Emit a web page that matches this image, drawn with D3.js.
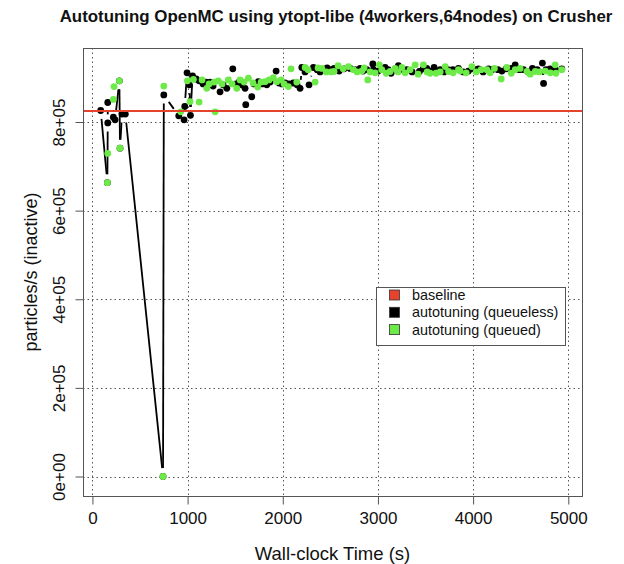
<!DOCTYPE html>
<html>
<head>
<meta charset="utf-8">
<script src="https://cdn.jsdelivr.net/npm/d3@7"></script>
<style>
  html, body { margin: 0; padding: 0; background: #fff; }
  svg { display: block; font-family: "Liberation Sans", Arial, Helvetica, sans-serif; }
</style>
</head>
<body>
<svg id="chart" width="624" height="564"></svg>
<script>
// ---- data ----
const titleText = "Autotuning OpenMC using ytopt-libe (4workers,64nodes) on Crusher";
const xLabel = "Wall-clock Time (s)";
const yLabel = "particles/s (inactive)";
const xTicks = [0, 1000, 2000, 3000, 4000, 5000];
const yTicks = [0, 200000, 400000, 600000, 800000];
const yTickLabels = ["0e+00", "2e+05", "4e+05", "6e+05", "8e+05"];
const baselineValue = 825000;
const legendLabels = ["baseline", "autotuning (queueless)", "autotuning (queued)"];

// queueless (black) : time (s), particles/s
const queuelessTime = [87,157,161,161,220,238,283,290,311,346,742,750,907,963,970,994,1019,1030,1052,1089,1121,1163,1194,1236,1268,1341,1373,1412,1475,1510,1544,1572,1604,1611,1674,1698,1744,1783,1832,1867,1930,1961,1993,2024,2066,2111,2150,2182,2200,2234,2276,2322,2361,2392,2427,2466,2497,2539,2592,2644,2708,2760,2813,2844,2883,2946,2952,3002,3075,3107,3138,3215,3264,3303,3359,3436,3475,3513,3548,3590,3654,3695,3737,3787,3846,3895,3951,4000,4056,4105,4161,4200,4260,4302,4347,4400,4442,4484,4529,4578,4623,4673,4728,4740,4767,4809,4862,4932];
const queuelessRate = [826000,663000,798000,844000,811000,805000,893000,741000,818000,818000,0,861000,814000,805000,835000,911000,884000,815000,904000,897000,893000,886000,890000,890000,881000,868000,884000,876000,920000,886000,891000,884000,876000,839000,857000,886000,891000,886000,884000,890000,915000,888000,886000,888000,886000,888000,884000,876000,923000,913000,884000,923000,918000,913000,918000,922000,918000,921000,915000,920000,921000,918000,921000,915000,918000,931000,918000,915000,923000,918000,910000,927000,918000,918000,913000,914000,920000,921000,915000,923000,918000,913000,918000,918000,921000,913000,915000,920000,920000,913000,920000,918000,918000,915000,920000,921000,929000,918000,918000,913000,921000,918000,933000,887000,918000,920000,918000,920000];

// queued (green) : time (s), particles/s
const queuedTime = [157,161,220,227,283,290,742,750,928,998,1026,1061,1121,1152,1201,1226,1278,1289,1323,1362,1428,1467,1517,1551,1593,1639,1688,1737,1772,1814,1856,1901,1937,1982,2014,2059,2087,2147,2235,2266,2340,2371,2410,2456,2508,2539,2581,2634,2690,2742,2781,2830,2855,2893,2918,2970,3015,3040,3086,3128,3180,3212,3251,3286,3338,3391,3422,3478,3517,3548,3611,3654,3707,3742,3790,3846,3864,3927,3987,4032,4084,4144,4179,4224,4295,4354,4400,4442,4494,4565,4600,4653,4695,4758,4811,4862,4870,4932];
const queuedRate = [663000,729000,851000,880000,893000,741000,0,881000,823000,893000,846000,896000,845000,895000,876000,886000,890000,823000,893000,886000,895000,886000,876000,895000,890000,899000,888000,879000,890000,891000,895000,900000,891000,895000,886000,880000,920000,890000,923000,918000,890000,922000,921000,913000,913000,914000,927000,920000,925000,918000,913000,915000,922000,895000,913000,911000,929000,918000,910000,914000,921000,913000,923000,911000,918000,929000,908000,929000,913000,910000,910000,913000,925000,914000,911000,918000,915000,911000,925000,913000,918000,918000,911000,921000,897000,923000,910000,918000,921000,914000,908000,914000,913000,915000,911000,929000,910000,918000];

// ---- layout ----
const svg = d3.select("#chart");
const box = { left: 83, right: 582, top: 48, bottom: 496 };
const colBaseline = "#e5432e", colQueueless = "#000000", colQueued = "#6bea48";

const x = d3.scaleLinear().domain([-99, 5144]).range([box.left, box.right]);
const y = d3.scaleLinear().domain([-44000, 967000]).range([box.bottom, box.top]);

// grid
const grid = svg.append("g").attr("stroke", "#555").attr("stroke-width", 1).attr("stroke-dasharray", "1.5,3");
xTicks.forEach(t => grid.append("line")
  .attr("x1", Math.round(x(t)) + 0.5).attr("x2", Math.round(x(t)) + 0.5)
  .attr("y1", box.top).attr("y2", box.bottom));
yTicks.forEach(t => grid.append("line")
  .attr("y1", Math.round(y(t)) + 0.5).attr("y2", Math.round(y(t)) + 0.5)
  .attr("x1", box.left).attr("x2", box.right));

// queueless line (type="b" style: gaps around points)
const gap = 8.5;
const qlPts = queuelessTime.map((t, i) => [x(t), y(queuelessRate[i])]);
const lineG = svg.append("g").attr("stroke", "#000").attr("stroke-width", 1.8).attr("fill", "none");
for (let i = 0; i < qlPts.length - 1; i++) {
  const [x1, y1] = qlPts[i], [x2, y2] = qlPts[i + 1];
  const dx = x2 - x1, dy = y2 - y1, d = Math.hypot(dx, dy);
  if (d > 2 * gap) {
    const ux = dx / d, uy = dy / d;
    lineG.append("line")
      .attr("x1", x1 + ux * gap).attr("y1", y1 + uy * gap)
      .attr("x2", x2 - ux * gap).attr("y2", y2 - uy * gap);
  }
}

// points
const r = 3.4;
svg.append("g").selectAll("circle").data(queuelessTime).join("circle")
  .attr("cx", d => x(d)).attr("cy", (d, i) => y(queuelessRate[i])).attr("r", r)
  .attr("fill", colQueueless);
svg.append("g").selectAll("circle").data(queuedTime).join("circle")
  .attr("cx", d => x(d)).attr("cy", (d, i) => y(queuedRate[i])).attr("r", r)
  .attr("fill", colQueued);

// baseline
svg.append("line")
  .attr("x1", box.left).attr("x2", box.right)
  .attr("y1", y(baselineValue)).attr("y2", y(baselineValue))
  .attr("stroke", colBaseline).attr("stroke-width", 2);

// box
svg.append("rect").attr("x", box.left + 0.5).attr("y", box.top + 0.5)
  .attr("width", box.right - box.left).attr("height", box.bottom - box.top)
  .attr("fill", "none").attr("stroke", "#555").attr("stroke-width", 1);

// x axis
const xAxis = d3.axisBottom(x).tickValues(xTicks).tickSize(8).tickPadding(7).tickFormat(d3.format("d"));
const gx = svg.append("g").attr("transform", `translate(0,${box.bottom + 0.5})`).call(xAxis);
gx.select(".domain").remove();
gx.selectAll(".tick line").attr("stroke", "#555");
gx.selectAll(".tick text").attr("font-size", 17).attr("fill", "#111")
  .attr("font-family", "Liberation Sans, Arial, sans-serif");

// y axis
const yAxis = d3.axisLeft(y).tickValues(yTicks).tickSize(8).tickFormat((d, i) => yTickLabels[i]);
const gy = svg.append("g").attr("transform", `translate(${box.left + 0.5},0)`).call(yAxis);
gy.select(".domain").remove();
gy.selectAll(".tick line").attr("stroke", "#555");
gy.selectAll(".tick text")
  .attr("x", null).attr("dy", null)
  .attr("transform", "translate(-19,0) rotate(-90)")
  .attr("text-anchor", "middle")
  .attr("font-size", 17).attr("fill", "#111")
  .attr("font-family", "Liberation Sans, Arial, sans-serif");

// titles
svg.append("text").attr("x", 336).attr("y", 22)
  .attr("text-anchor", "middle").attr("font-weight", "bold").attr("font-size", 16.9)
  .attr("fill", "#111").text(titleText);
svg.append("text").attr("x", (box.left + box.right) / 2).attr("y", 560)
  .attr("text-anchor", "middle").attr("font-size", 18.5).attr("fill", "#111").text(xLabel);
svg.append("text").attr("transform", `translate(37,${(box.top + box.bottom) / 2}) rotate(-90)`)
  .attr("text-anchor", "middle").attr("font-size", 18).attr("fill", "#111").text(yLabel);

// legend
const lg = svg.append("g");
lg.append("rect").attr("x", 376.5).attr("y", 287.5).attr("width", 189).attr("height", 58)
  .attr("fill", "#fff").attr("stroke", "#555").attr("stroke-width", 1);
const legCols = [colBaseline, colQueueless, colQueued];
legendLabels.forEach((lab, i) => {
  const cy = 295 + i * 17.3;
  lg.append("rect").attr("x", 389.5).attr("y", cy - 5).attr("width", 10).attr("height", 10)
    .attr("fill", legCols[i]).attr("stroke", "#333").attr("stroke-width", 0.8);
  lg.append("text").attr("x", 412).attr("y", cy + 5).attr("font-size", 14.4).attr("fill", "#111").text(lab);
});
</script>
</body>
</html>
